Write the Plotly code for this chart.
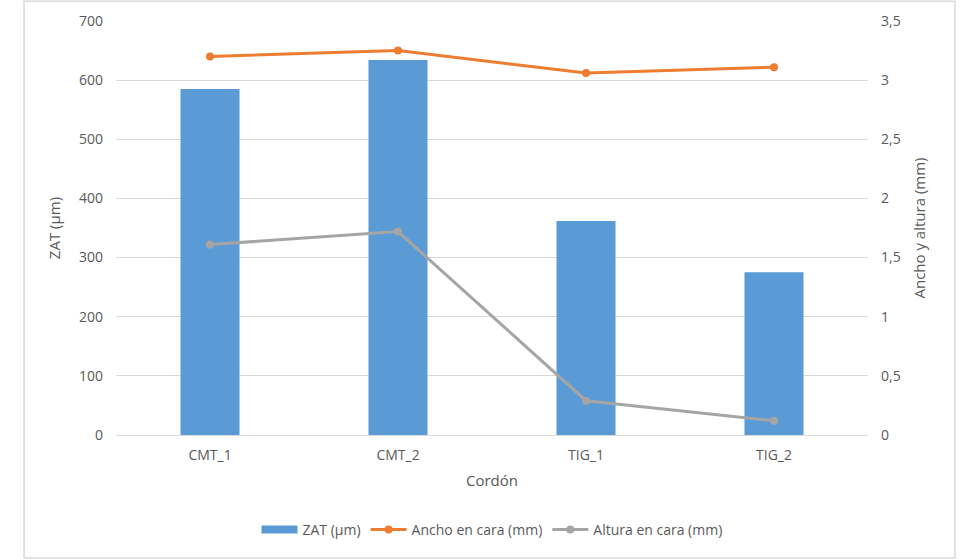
import plotly.graph_objects as go

categories = ["CMT_1", "CMT_2", "TIG_1", "TIG_2"]
zat_um = [585, 634, 362, 275]
ancho_mm = [3.20, 3.25, 3.06, 3.11]
altura_mm = [1.61, 1.72, 0.29, 0.12]
left_ticks = [0, 100, 200, 300, 400, 500, 600, 700]
right_ticks = [0, 0.5, 1, 1.5, 2, 2.5, 3, 3.5]

FONT = "Open Sans, Liberation Sans, sans-serif"
TXT = "#595959"
BLUE = "#5B9BD5"

fig = go.Figure()
fig.add_trace(go.Bar(x=categories, y=zat_um, name="ZAT (µm)", showlegend=False,
                     marker=dict(color=BLUE, line=dict(width=0))))
# legend entry for bars (wide rectangle swatch)
fig.add_trace(go.Scatter(x=[None], y=[None], name="ZAT (µm)", mode="lines",
                         line=dict(color=BLUE, width=8)))
fig.add_trace(go.Scatter(x=categories, y=ancho_mm, name="Ancho en cara (mm)", yaxis="y2",
                         mode="lines+markers", line=dict(color="#ED7D31", width=3),
                         marker=dict(size=8, color="#ED7D31")))
fig.add_trace(go.Scatter(x=categories, y=altura_mm, name="Altura en cara (mm)", yaxis="y2",
                         mode="lines+markers", line=dict(color="#A5A5A5", width=3),
                         marker=dict(size=8, color="#A5A5A5")))

fig.update_layout(
    width=980, height=560,
    margin=dict(l=116, r=112, t=21, b=125),
    paper_bgcolor="white", plot_bgcolor="white",
    separators=",.",
    font=dict(family=FONT, size=14, color=TXT),
    bargap=0.686,
    showlegend=True,
    legend=dict(orientation="h", x=0.5, xanchor="center", y=-0.229, yanchor="middle",
                font=dict(size=14, color=TXT), traceorder="normal", itemwidth=36),
    xaxis=dict(title=dict(text="Cordón", font=dict(size=15, color=TXT), standoff=12),
               showgrid=False, showline=True, linecolor="#D9D9D9", linewidth=1,
               ticks="", ticklabelstandoff=7, tickfont=dict(size=14, color=TXT)),
    yaxis=dict(title=dict(text="ZAT (µm)", font=dict(size=15, color=TXT), standoff=14),
               range=[0, 700], tickvals=left_ticks, showgrid=True, gridcolor="#D9D9D9",
               gridwidth=1, zeroline=False, showline=False, ticks="",
               ticklabelstandoff=12, tickfont=dict(size=14, color=TXT)),
    yaxis2=dict(title=dict(text="Ancho y altura (mm)", font=dict(size=15, color=TXT), standoff=14),
                overlaying="y", side="right", range=[0, 3.5], tickvals=right_ticks,
                showgrid=False, zeroline=False, showline=False, ticks="",
                ticklabelstandoff=12, tickfont=dict(size=14, color=TXT)),
    shapes=[dict(type="rect", xref="paper", yref="paper",
                 x0=-0.1223, x1=1.1157, y0=-0.297, y1=1.048,
                 line=dict(color="#D9D9D9", width=1.5), fillcolor="rgba(0,0,0,0)",
                 layer="below")],
)

fig.write_html("out.html")
